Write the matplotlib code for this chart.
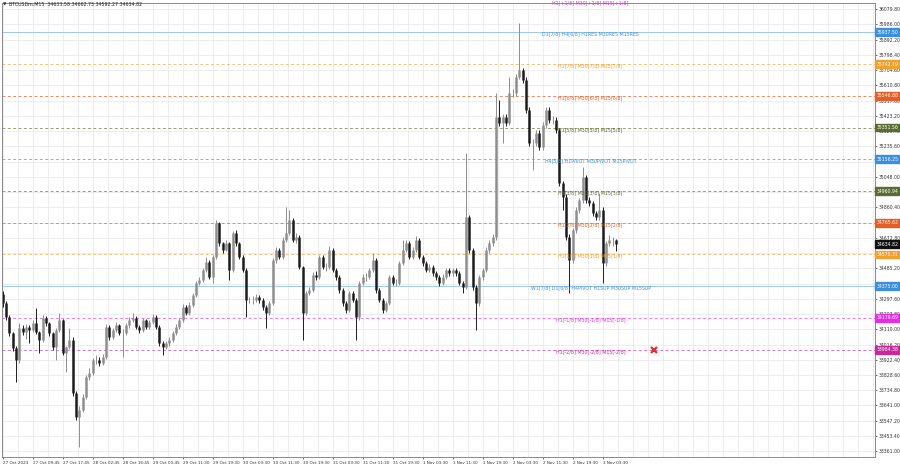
import numpy as np
import matplotlib
matplotlib.use("Agg")
import matplotlib.pyplot as plt
import matplotlib.transforms as mtransforms

# ── Price data: BTCUSDm M15 (each candle ~ 3.5 real bars) ─────────
first_open = 34330
close = [
    34272, 34186, 34087, 33995, 33921, 34118, 34093, 34124, 34106, 34149,
    34093, 34044, 34180, 34149, 34087, 34001, 34106, 34167, 33964, 34001,
    34044, 33718, 33570, 33613, 33693, 33816, 33841, 33921, 33921, 33903,
    33939, 34124, 34063, 34106, 34136, 34087, 34087, 34136, 34167, 34180,
    34124, 34106, 34167, 34124, 34155, 34186, 34124, 34026, 34001, 34026,
    34044, 34087, 34124, 34167, 34247, 34210, 34260, 34321, 34395, 34413,
    34475, 34524, 34432, 34555, 34764, 34641, 34598, 34641, 34475, 34703,
    34641, 34555, 34475, 34290, 34290, 34290, 34309, 34290, 34247, 34210,
    34272, 34537, 34598, 34555, 34660, 34703, 34783, 34660, 34678, 34494,
    34210, 34333, 34352, 34444, 34432, 34555, 34494, 34494, 34598, 34475,
    34432, 34352, 34272, 34229, 34333, 34290, 34186, 34395, 34432, 34432,
    34475, 34537, 34352, 34290, 34229, 34272, 34432, 34395, 34395, 34518,
    34598, 34641, 34555, 34598, 34660, 34555, 34518, 34475, 34494, 34457,
    34432, 34395, 34432, 34475, 34457, 34475, 34457, 34395, 34370, 34801,
    34598, 34370, 34272, 34432, 34475, 34598, 34641, 34678, 35417, 35380,
    35417, 35380, 35565, 35565, 35663, 35706, 35645, 35460, 35257, 35257,
    35318, 35232, 35368, 35460, 35398, 35398, 35337, 35011, 34924, 34678,
    34537, 34721, 34844, 34906, 35048, 34906, 34887, 34826, 34801, 34844,
    34518, 34641, 34660, 34660, 34634.82]
high = [
    34345, 34285, 34195, 34095, 34010, 34150, 34135, 34140, 34135, 34165,
    34241, 34100, 34195, 34190, 34155, 34095, 34115, 34210, 34175, 34010,
    34118, 34060, 33730, 33640, 33710, 33830, 33870, 33935, 33950, 33940,
    33955, 34140, 34135, 34120, 34155, 34145, 34110, 34150, 34185, 34210,
    34190, 34135, 34180, 34175, 34170, 34205, 34195, 34135, 34040, 34040,
    34060, 34100, 34140, 34180, 34265, 34260, 34275, 34335, 34410, 34430,
    34490, 34555, 34535, 34570, 34780, 34770, 34650, 34660, 34650, 34715,
    34721, 34650, 34565, 34485, 34310, 34315, 34330, 34320, 34300, 34260,
    34285, 34550, 34615, 34610, 34675, 34863, 34844, 34795, 34700, 34690,
    34500, 34345, 34370, 34460, 34470, 34570, 34565, 34515, 34625, 34610,
    34490, 34445, 34365, 34285, 34345, 34345, 34300, 34410, 34450, 34455,
    34490, 34580, 34550, 34365, 34305, 34285, 34445, 34445, 34420, 34530,
    34660, 34660, 34655, 34615, 34685, 34670, 34565, 34530, 34510, 34505,
    34470, 34445, 34450, 34490, 34490, 34490, 34490, 34470, 34410, 35195,
    34815, 34610, 34385, 34445, 34490, 34615, 34660, 34695, 35565, 35521,
    35435, 35435, 35663, 35590, 35680, 35995, 35720, 35660, 35475, 35280,
    35335, 35335, 35385, 35478, 35475, 35420, 35415, 35350, 35025, 34940,
    34695, 34735, 34860, 34920, 35109, 35060, 34925, 34900, 34840, 34949,
    34860, 34655, 34690, 34680, 34662.73]
low = [
    34250, 34170, 34070, 33975, 33785, 33900, 34075, 34050, 34025, 34095,
    34080, 33964, 34030, 34130, 34070, 33985, 33921, 34095, 33950, 33847,
    33990, 33700, 33550, 33385, 33600, 33680, 33800, 33830, 33895, 33885,
    33890, 33930, 34045, 34050, 34095, 34075, 33939, 34075, 34120, 34155,
    34110, 34090, 34095, 34110, 34110, 34140, 34110, 34010, 33952, 33990,
    34010, 34030, 34075, 34110, 34155, 34195, 34200, 34250, 34310, 34380,
    34400, 34460, 34420, 34395, 34545, 34625, 34580, 34590, 34413, 34465,
    34625, 34540, 34460, 34186, 34270, 34265, 34280, 34270, 34230, 34118,
    34195, 34260, 34520, 34540, 34545, 34650, 34690, 34645, 34640, 34480,
    34044, 34195, 34320, 34340, 34415, 34420, 34480, 34470, 34480, 34460,
    34415, 34335, 34255, 34210, 34215, 34275, 34044, 34170, 34380, 34410,
    34420, 34460, 34335, 34275, 34210, 34215, 34260, 34380, 34375, 34385,
    34505, 34585, 34540, 34540, 34585, 34540, 34500, 34460, 34460, 34440,
    34415, 34375, 34380, 34420, 34440, 34440, 34440, 34380, 34333, 34355,
    34580, 34350, 34106, 34255, 34415, 34460, 34580, 34625, 34660, 35360,
    35257, 35360, 35365, 35540, 35545, 35650, 35625, 35440, 35240, 35091,
    35240, 35215, 35215, 35350, 35380, 35375, 35320, 34990, 34844, 34660,
    34333, 34520, 34705, 34825, 34890, 34890, 34870, 34810, 34785, 34785,
    34395, 34500, 34620, 34625, 34592.27]

time_labels = ["27 Oct 2023", "27 Oct 09:45", "27 Oct 17:45", "28 Oct 02:45",
               "28 Oct 16:45", "29 Oct 00:45", "29 Oct 11:30", "29 Oct 19:30",
               "30 Oct 03:30", "30 Oct 11:30", "30 Oct 19:30", "31 Oct 03:30",
               "31 Oct 11:30", "31 Oct 19:30", "1 Nov 03:30", "1 Nov 11:30",
               "1 Nov 19:30", "2 Nov 03:30", "2 Nov 11:30", "2 Nov 19:30",
               "3 Nov 03:30"]
price_ticks = [36079.80, 35986.00, 35892.20, 35798.40, 35704.60, 35610.80,
               35517.00, 35423.20, 35329.40, 35235.60, 35141.80, 35048.00,
               34954.20, 34860.40, 34766.60, 34672.80, 34579.00, 34485.20,
               34391.40, 34297.60, 34203.80, 34110.00, 34016.20, 33922.40,
               33828.60, 33734.80, 33641.00, 33547.20, 33453.40, 33361.00]

# ── Murrey levels ────────────────────────────────────
level_prices = [36132.81, 35937.50, 35742.19, 35546.88, 35351.56, 35156.25,
                34960.94, 34765.62, 34570.31, 34375.00, 34179.69, 33984.38]
level_names = ["H1[+1/8] M30[+1/8] M15[+1/8]",
               "D1[7/8] H4[6/8] H1RES M30RES M15RES",
               "H1[7/8] M30[7/8] M15[7/8]",
               "H1[6/8] M30[6/8] M15[6/8]",
               "H1[5/8] M30[5/8] M15[5/8]",
               "H4[5/8] H1PIVOT M30PIVOT M15PIVOT",
               "H1[3/8] M30[3/8] M15[3/8]",
               "H1[2/8] M30[2/8] M15[2/8]",
               "H1[1/8] M30[1/8] M15[1/8]",
               "W1[7/8] D1[6/8] H4PIVOT H1SUP M30SUP M15SUP",
               "H1[-1/8] M30[-1/8] M15[-1/8]",
               "H1[-2/8] M30[-2/8] M15[-2/8]"]
level_colors = ["#d040d0", "#3c8fdc", "#f0a02c", "#e35f2a", "#5a6b34", "#3c8fdc",
                "#5a6b34", "#e35f2a", "#f0a02c", "#3c8fdc", "#e030e0", "#c8289a"]
line_colors = ["#e070e0", "#9cc8ee", "#f4c07a", "#ec8a62", "#98a070", "#7cb4ea",
               "#98a070", "#ec8a62", "#f4c07a", "#9cc8ee", "#ea7aea", "#d878bc"]
solid_level = [False, True, False, False, False, False,
               False, False, False, True, False, False]

bid = 34634.82
header = "BTCUSDm,M15  34633.58 34662.73 34592.27 34634.82"

# ── Figure ──────────────────────────────────────────
fig = plt.figure(figsize=(9, 4.68), dpi=100)
ax = fig.add_axes([2 / 900, 11 / 468, 873 / 900, 454 / 468])
fig.patch.set_facecolor("white")

n = len(close)
assert len(high) == n and len(low) == n
x = np.arange(n)
o = np.array([first_open] + close[:-1], dtype=float)
c = np.array(close, dtype=float)
h = np.maximum(np.array(high, dtype=float), np.maximum(o, c))
l = np.minimum(np.array(low, dtype=float), np.minimum(o, c))
up = c >= o

ax.set_xlim(-0.2, 261.7)
ax.set_ylim(33324, 36118)

# grid
for gx in np.arange(0, 262, 4.5):
    ax.axvline(gx, color="#e6e6e6", lw=0.5, zorder=0)
for gy in price_ticks:
    ax.axhline(gy, color="#e6e6e6", lw=0.5, zorder=0)

# levels
for p, name, tc, lc, solid in zip(level_prices, level_names, level_colors,
                                  line_colors, solid_level):
    ax.axhline(p, color=lc, lw=0.7, ls="-" if solid else (0, (3, 2.5)), zorder=1)
    ax.annotate(name, (176.4, p), xytext=(0, -1.3), textcoords="offset points",
                ha="center", va="center", fontsize=3.4, color=tc,
                annotation_clip=False, zorder=4)

# candles
for mask, col in ((up, "#8e8e8e"), (~up, "#1c1c1c")):
    ax.vlines(x[mask], l[mask], h[mask], color=col, lw=0.7, zorder=2)
    ax.vlines(x[mask], np.minimum(o, c)[mask], np.maximum(o, c)[mask],
              color=col, lw=1.8, zorder=2)

# red cross on the -2/8 level
ax.plot([195.3], [level_prices[-1]], marker="x", color="#e03030",
        markersize=5, mew=1.6, zorder=5)

# axes styling
for s in ax.spines.values():
    s.set_color("#8a8a8a")
    s.set_linewidth(0.7)
ax.yaxis.tick_right()
ax.set_yticks(price_ticks)
ax.set_yticklabels([f"{v:.2f}" for v in price_ticks])
ax.set_xticks(np.arange(0, 9 * len(time_labels), 9))
ax.set_xticklabels(time_labels)
ax.tick_params(axis="y", labelsize=3.3, colors="#333333", length=1.5,
               width=0.5, pad=1.2)
ax.tick_params(axis="x", labelsize=3.0, colors="#333333", length=1.5,
               width=0.5, pad=1.5)
for lbl in ax.get_xticklabels():
    lbl.set_ha("left")

# price tags on the right scale
tag_prices = level_prices[1:] + [bid]
tag_colors = level_colors[1:] + ["#111111"]
trans = mtransforms.blended_transform_factory(ax.transAxes, ax.transData)
for p, col in zip(tag_prices, tag_colors):
    ax.text(1.0015, p, f"{p:.2f}", transform=trans, ha="left", va="center",
            fontsize=3.3, color="white", clip_on=False, zorder=6,
            bbox=dict(boxstyle="square,pad=0.3", fc=col, ec=col))

# header
fig.text(3 / 900, 1 - 4.5 / 468, "\u25bc", fontsize=3.2, color="#222222",
         ha="left", va="center")
fig.text(9 / 900, 1 - 4.5 / 468, header, fontsize=3.4, color="#222222",
         ha="left", va="center")

fig.savefig("out.png", dpi=100)
